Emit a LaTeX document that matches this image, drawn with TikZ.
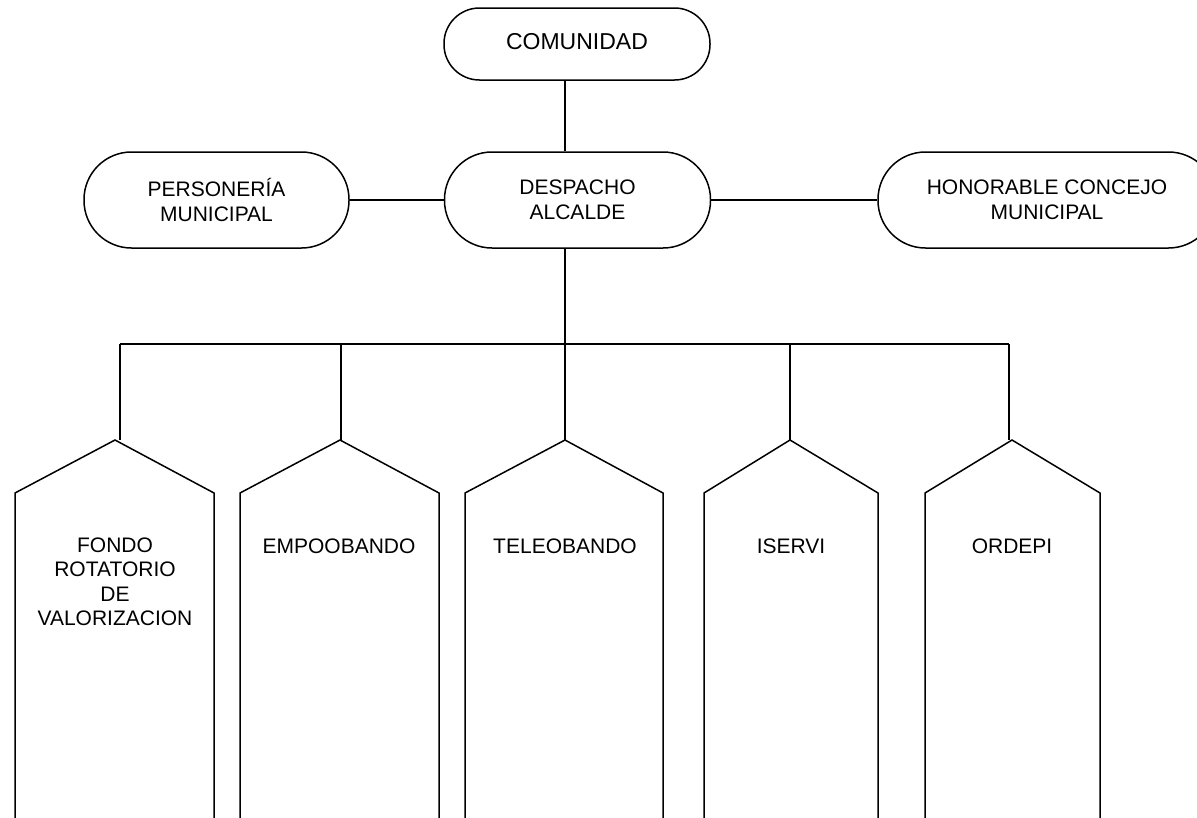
\documentclass[tikz,border=0pt]{standalone}
\usepackage{fontspec}
\setmainfont{Liberation Sans}
\begin{document}
\begin{tikzpicture}[x=1pt,y=-1pt,line width=1.5pt,
  txt/.style={font=\fontsize{21}{24.5}\selectfont, align=center, inner sep=0pt},
  stad/.style={txt, draw, rounded corners=#1, minimum width=266pt},
  pent/.style={line join=miter}]
\useasboundingbox (0,0) rectangle (1197,817);
\clip (0,0) rectangle (1197,817);
\fill[white] (0,0) rectangle (1197,817);
% top boxes
\node[stad=35.5pt, minimum height=72pt, font=\fontsize{23}{27}\selectfont, text height=16.5pt, text depth=6pt] (com) at (577,44) {COMUNIDAD};
\node[stad=47.5pt, minimum height=96pt] (des) at (577.5,200) {DESPACHO\\ALCALDE};
\node[stad=47.5pt, minimum height=96pt, minimum width=265pt] (per) at (216.5,200) {PERSONERÍA\\MUNICIPAL};
\node[stad=47.5pt, minimum height=96pt, minimum width=338pt] (hon) at (1047,200) {HONORABLE CONCEJO\\MUNICIPAL};
% connectors
\coordinate (vx) at (565,0);
\draw (com.south -| vx) -- (des.north -| vx);
\draw (per.east) -- (des.west);
\draw (des.east) -- (hon.west);
\coordinate (bus) at (565,344);
\draw (des.south -| vx) -- (bus);
\coordinate (d1) at (120,344);
\coordinate (d2) at (341,344);
\coordinate (d3) at (565,344);
\coordinate (d4) at (790,344);
\coordinate (d5) at (1009,344);
\draw (d1) -- (d5);
% lower boxes
\coordinate (a1) at (115,440);
\coordinate (a2) at (340,440);
\coordinate (a3) at (565,440);
\coordinate (a4) at (790,440);
\coordinate (a5) at (1012,440);
\draw[pent] (15,830) -- (15,493) -- (a1) -- (214,493) -- (214,830);
\draw[pent] (240,830) -- (240,493) -- (a2) -- (439,493) -- (439,830);
\draw[pent] (465,830) -- (465,493) -- (a3) -- (663,493) -- (663,830);
\draw[pent] (704,830) -- (704,493) -- (a4) -- (878,493) -- (878,830);
\draw[pent] (925,830) -- (925,493) -- (a5) -- (1100,493) -- (1100,830);
\foreach \i in {1,...,5}{\draw (d\i) -- (d\i |- a\i);}
\node[txt, anchor=north] (t1) at (115,537) {FONDO\\ROTATORIO\\DE\\VALORIZACION};
\node[txt, anchor=north] (t2) at (339,538) {EMPOOBANDO};
\node[txt, anchor=north] (t3) at (565,538) {TELEOBANDO};
\node[txt, anchor=north] (t4) at (791,538) {ISERVI};
\node[txt, anchor=north] (t5) at (1012,538) {ORDEPI};
\end{tikzpicture}
\end{document}
